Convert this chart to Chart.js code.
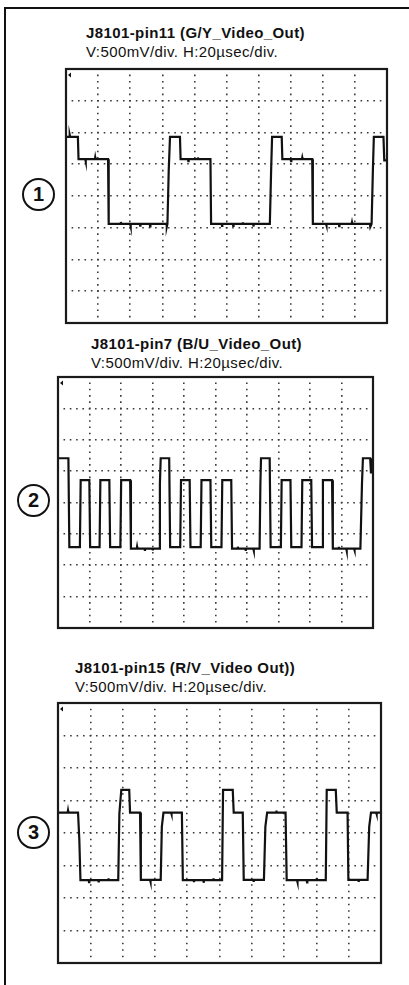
<!DOCTYPE html>
<html>
<head>
<meta charset="utf-8">
<script src="https://cdn.jsdelivr.net/npm/chart.js@4/dist/chart.umd.min.js"></script>
<style>
  html, body { margin: 0; padding: 0; background: #fff; }
  body { width: 409px; height: 985px; position: relative; overflow: hidden;
         font-family: "Liberation Sans", Arial, Helvetica, sans-serif; color: #111; }
  #sheet { position: absolute; left: 4px; top: 7px; right: -10px; bottom: -10px;
           border-left: 2px solid #111; border-top: 2px solid #111; }
  canvas { position: absolute; }
  .ttl { position: absolute; white-space: nowrap; line-height: 19px; letter-spacing: 0.4px; }
  .ttl b { display: block; font-weight: bold; font-size: 15px; }
  .ttl span { display: block; font-size: 15px; }
  .num { position: absolute; width: 29px; height: 29px; border: 2px solid #111; border-radius: 50%;
         font-weight: bold; font-size: 20px; line-height: 29px; text-align: center; }
</style>
</head>
<body>
<div id="sheet"></div>

<div class="ttl" style="left:86px; top:23px;"><b id="t1"></b><span class="scl"></span></div>
<div class="ttl" style="left:91px; top:334px;"><b id="t2"></b><span class="scl"></span></div>
<div class="ttl" style="left:75px; top:658px;"><b id="t3"></b><span class="scl"></span></div>

<div class="num" style="left:22px; top:178px;">1</div>
<div class="num" style="left:17px; top:484px;">2</div>
<div class="num" style="left:17px; top:816px;">3</div>

<canvas id="c1" width="325" height="258" style="left:64px; top:67px;"></canvas>
<canvas id="c2" width="319" height="255" style="left:56px; top:375px;"></canvas>
<canvas id="c3" width="327" height="264" style="left:56px; top:701px;"></canvas>

<script>
// Trace captions
const traceTitles = [
  "J8101-pin11 (G/Y_Video_Out)",
  "J8101-pin7 (B/U_Video_Out)",
  "J8101-pin15 (R/V_Video Out))"
];
const scaleText = "V:500mV/div. H:20\u00b5sec/div.";

// Graticule: 10 horizontal divisions of 20 µs, 8 vertical divisions of 500 mV
const timeMinUs = 0, timeMaxUs = 200, timeStepUs = 20;
const voltMinMv = -2000, voltMaxMv = 2000, voltStepMv = 500;

// G/Y video out (time in µs, level in mV)
const gyTime = [0, 2.0, 2.3, 2.6, 7.4, 7.8, 12.0, 12.2, 12.4, 18.0, 18.2, 18.4, 26.2, 26.6,
                34.0, 34.2, 34.4, 40.0, 40.2, 40.4, 46.0, 46.2, 46.4,
                52.2, 52.4, 52.6, 62.6, 62.8, 63.2, 64.0, 64.8, 71.0, 71.4, 76.0, 76.2, 76.4,
                82.0, 82.2, 82.4, 90.0, 90.4, 97.0, 97.2, 97.4, 104.0, 104.2, 104.4,
                110.0, 110.2, 110.4, 116.6, 116.8, 117.0, 127.0, 127.8, 128.4,
                134.4, 134.8, 140.0, 140.2, 140.4, 147.0, 147.2, 147.4, 153.4, 153.8,
                162.0, 162.2, 162.4, 170.0, 170.2, 170.4, 178.0, 178.2, 178.4,
                189.4, 189.6, 190.4, 191.2, 191.8, 197.8, 198.3, 200];
const gyMv   = [930, 930, 965, 930, 930, 580, 580, 545, 580, 580, 610, 580, 580, -440,
                -440, -410, -440, -440, -475, -440, -440, -465, -440,
                -440, -480, -440, -440, -485, -440, 400, 930, 930, 580, 580, 550, 580,
                580, 605, 580, 580, -440, -440, -470, -440, -440, -470, -440,
                -440, -415, -440, -440, -480, -440, -440, 400, 930,
                930, 580, 580, 550, 580, 580, 605, 580, 580, -440,
                -440, -465, -440, -440, -475, -440, -440, -415, -440,
                -440, -485, -440, 400, 930, 930, 560, 560];

// B/U video out
const buTime = [0, 6.6, 7.2, 13.9, 14.4, 19.9, 20.4, 26.4, 26.9, 32.6, 33.1, 39.6, 40.1, 45.8, 46.3,
                50.0, 50.2, 50.4, 55.0, 55.2, 55.4, 60.0, 60.2, 60.4,
                64.2, 64.7, 65.2, 70.6, 71.2, 77.6, 78.1, 83.6, 84.1, 90.6, 91.1,
                96.8, 97.3, 103.8, 104.3, 110.0, 110.5, 114.0, 114.2, 114.4, 119.0, 119.2, 119.4,
                124.0, 124.2, 124.4, 128.0, 128.5, 128.9,
                134.4, 135.0, 141.5, 142.0, 147.6, 148.1, 154.6, 155.1, 160.8, 161.3, 167.7, 168.2,
                174.0, 174.5, 178.0, 178.2, 178.4, 183.0, 183.2, 183.4, 188.0, 188.2, 188.4,
                192.0, 193.0, 193.6, 198.2, 198.7, 200];
const buMv   = [705, 705, -710, -710, 355, 355, -710, -710, 355, 355, -710, -710, 355, 355, -735,
                -735, -705, -735, -735, -770, -735, -735, -760, -735,
                -735, 300, 705, 705, -710, -710, 355, 355, -710, -710, 355,
                355, -710, -710, 355, 355, -735, -735, -705, -735, -735, -770, -735,
                -735, -765, -735, -735, 300, 705,
                705, -710, -710, 355, 355, -710, -710, 355, 355, -710, -710, 355,
                355, -735, -735, -705, -735, -735, -770, -735, -735, -760, -735,
                -735, 300, 705, 705, 480, 480];

// R/V video out
const rvTime = [0, 6.0, 6.2, 6.4, 12.4, 13.2, 13.9, 19.0, 19.2, 19.4, 25.0, 25.2, 25.4,
                31.0, 31.2, 31.4, 37.3, 38.0, 39.2, 44.1, 44.6, 50.8, 51.3,
                57.0, 57.2, 57.4, 63.6, 64.3, 65.3, 70.0, 70.2, 70.4, 76.7, 77.3,
                84.0, 84.2, 84.4, 90.0, 90.2, 90.4, 96.0, 96.2, 96.4, 101.6, 102.2, 108.2, 108.8,
                114.4, 115.0, 121.0, 121.2, 121.4, 127.5, 128.4, 129.5, 135.0, 135.2, 135.4,
                140.9, 141.6, 148.0, 148.2, 148.4, 154.0, 154.2, 154.4, 160.0, 160.2, 160.4,
                165.8, 166.4, 172.0, 172.6, 179.3, 179.8, 186.0, 186.2, 186.4,
                191.7, 192.7, 193.8, 197.0, 197.2, 197.4, 200];
const rvMv   = [315, 315, 345, 315, 315, -100, -725, -725, -755, -725, -725, -760, -725,
                -725, -695, -725, -725, 300, 665, 665, 315, 315, -720,
                -720, -750, -720, -720, 100, 315, 315, 290, 315, 315, -725,
                -725, -755, -725, -725, -765, -725, -725, -695, -725, -725, 665, 665, 315,
                315, -720, -720, -750, -720, -720, 100, 315, 315, 345, 315,
                315, -725, -725, -755, -725, -725, -760, -725, -725, -695, -725,
                -725, 665, 665, 315, 315, -720, -720, -750, -720,
                -720, 100, 315, 315, 290, 315, 315];

document.getElementById("t1").textContent = traceTitles[0];
document.getElementById("t2").textContent = traceTitles[1];
document.getElementById("t3").textContent = traceTitles[2];
document.querySelectorAll(".scl").forEach(el => { el.textContent = scaleText; });

// Solid bezel around the graticule plus the small trigger marker at the upper left
const bezel = {
  id: "bezel",
  afterDraw(chart) {
    const a = chart.chartArea, ctx = chart.ctx;
    ctx.save();
    ctx.strokeStyle = "#1a1a1a";
    ctx.lineWidth = 2.2;
    ctx.strokeRect(a.left, a.top, a.right - a.left, a.bottom - a.top);
    ctx.fillStyle = "#111";
    ctx.beginPath();
    ctx.moveTo(a.left + 2, a.top + 6);
    ctx.lineTo(a.left + 5, a.top + 3.5);
    ctx.lineTo(a.left + 5, a.top + 8.5);
    ctx.closePath();
    ctx.fill();
    ctx.restore();
  }
};

function scope(id, time, mv) {
  const canvas = document.getElementById(id);
  const w = canvas.width - 4, h = canvas.height - 4;
  const dotV = h / 40, dotH = w / 50;
  const points = time.map((t, i) => ({ x: t, y: mv[i] }));
  new Chart(canvas, {
    type: "scatter",
    data: { datasets: [{
      data: points, showLine: true, borderColor: "#111", borderWidth: 2.2,
      pointRadius: 0, tension: 0, fill: false
    }]},
    options: {
      responsive: false, animation: false, devicePixelRatio: 1,
      layout: { padding: 2 },
      plugins: { legend: { display: false }, tooltip: { enabled: false } },
      scales: {
        x: {
          type: "linear", min: timeMinUs, max: timeMaxUs,
          ticks: { display: false, stepSize: timeStepUs },
          grid: { color: "#3a3a3a", lineWidth: 1.6, drawTicks: false },
          border: { display: false, dash: [1.6, dotV - 1.6], dashOffset: 0.8 }
        },
        y: {
          type: "linear", min: voltMinMv, max: voltMaxMv,
          ticks: { display: false, stepSize: voltStepMv },
          grid: { color: "#3a3a3a", lineWidth: 1.6, drawTicks: false },
          border: { display: false, dash: [1.6, dotH - 1.6], dashOffset: 0.8 }
        }
      }
    },
    plugins: [bezel]
  });
}

scope("c1", gyTime, gyMv);
scope("c2", buTime, buMv);
scope("c3", rvTime, rvMv);
</script>
</body>
</html>
